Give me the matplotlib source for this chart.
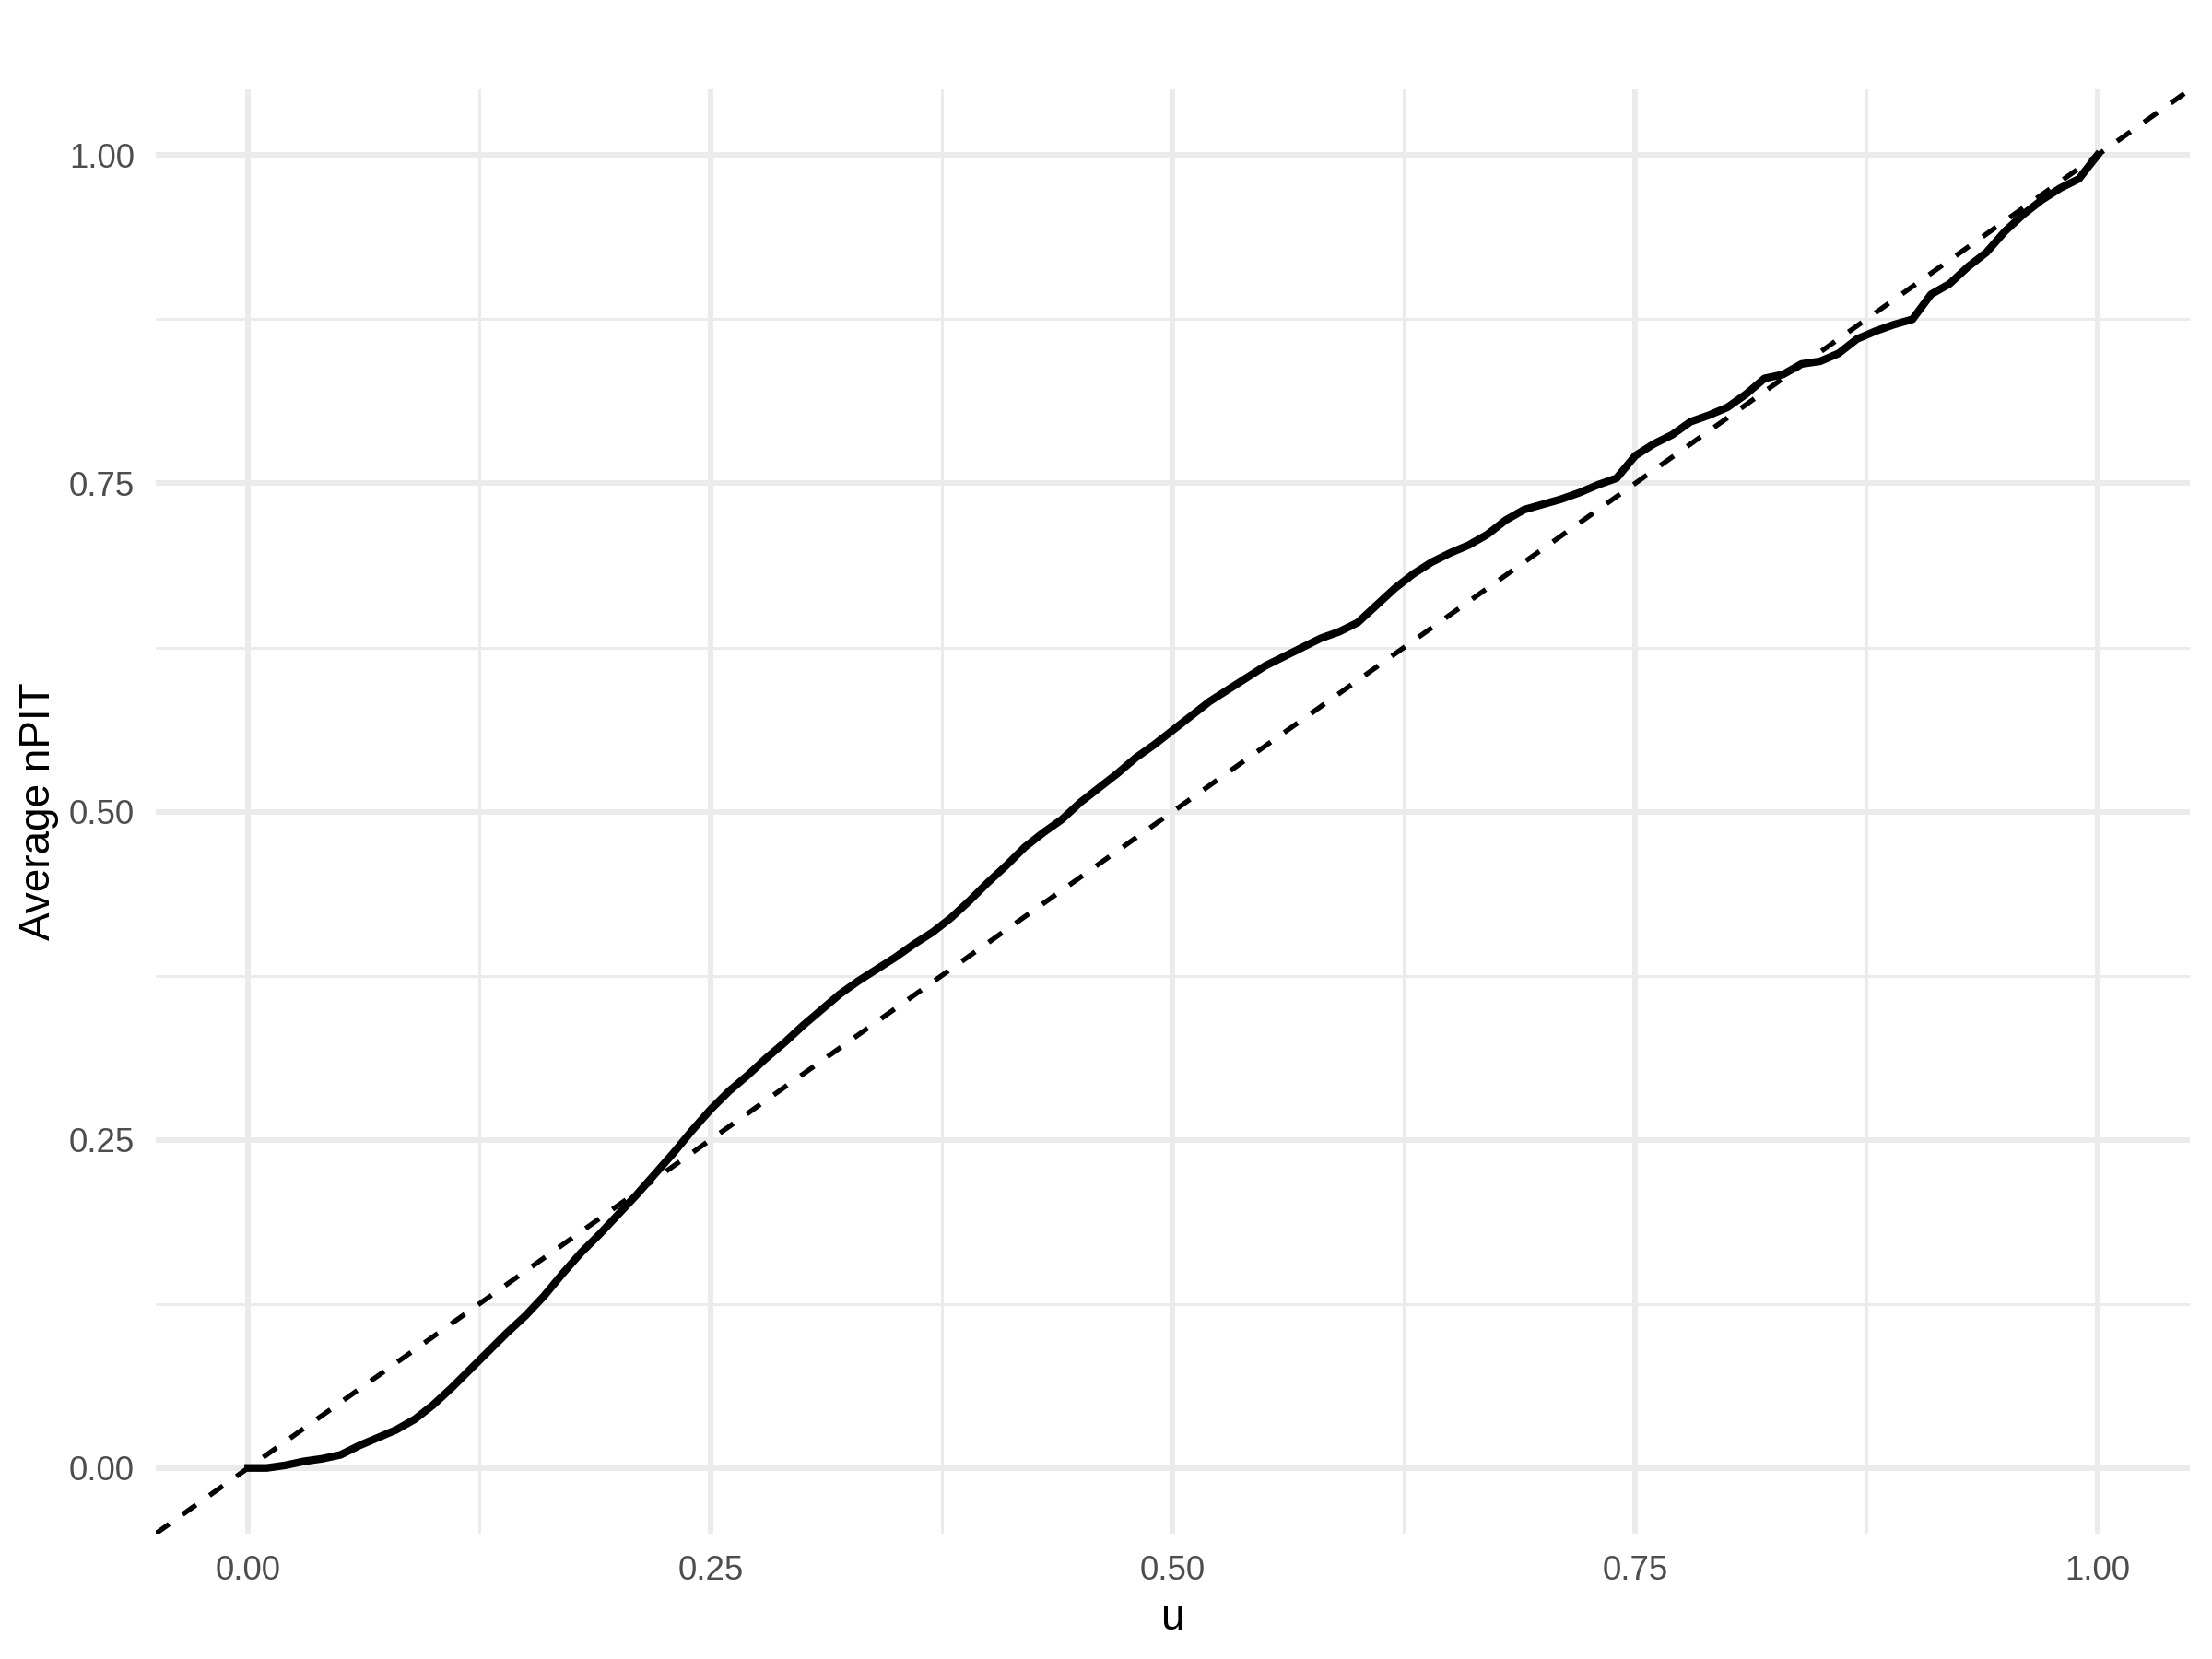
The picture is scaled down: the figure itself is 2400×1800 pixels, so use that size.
import numpy as np
import matplotlib
matplotlib.use("Agg")
import matplotlib.pyplot as plt
from matplotlib.ticker import MultipleLocator

# average nPIT at u = 0.00, 0.01, ..., 1.00
u = np.round(np.arange(0, 101) / 100, 2)
npit = [
    0.000, 0.000, 0.002, 0.005, 0.007, 0.010, 0.017, 0.023, 0.029, 0.037,
    0.048, 0.061, 0.075, 0.089, 0.103, 0.116, 0.131, 0.148, 0.164, 0.178,
    0.193, 0.208, 0.224, 0.240, 0.257, 0.273, 0.287, 0.299, 0.312, 0.324,
    0.337, 0.349, 0.361, 0.371, 0.380, 0.389, 0.399, 0.408, 0.419, 0.432,
    0.446, 0.459, 0.473, 0.484, 0.494, 0.507, 0.518, 0.529, 0.541, 0.551,
    0.562, 0.573, 0.584, 0.593, 0.602, 0.611, 0.618, 0.625, 0.632, 0.637,
    0.644, 0.657, 0.670, 0.681, 0.690, 0.697, 0.703, 0.711, 0.722, 0.730,
    0.734, 0.738, 0.743, 0.749, 0.754, 0.771, 0.780, 0.787, 0.797, 0.802,
    0.808, 0.818, 0.830, 0.833, 0.841, 0.843, 0.849, 0.860, 0.866, 0.871,
    0.875, 0.894, 0.902, 0.915, 0.926, 0.942, 0.955, 0.966, 0.975, 0.982,
    1.000,
]

plt.rcParams["font.family"] = ["Liberation Sans", "DejaVu Sans"]

fig = plt.figure(figsize=(8, 6), dpi=300)
ax = fig.add_axes([0.0704, 0.0756, 0.9196, 0.8704])

ax.set_xlim(-0.05, 1.05)
ax.set_ylim(-0.05, 1.05)

# ggplot theme_minimal look
for s in ax.spines.values():
    s.set_visible(False)
ax.xaxis.set_major_locator(MultipleLocator(0.25))
ax.yaxis.set_major_locator(MultipleLocator(0.25))
ax.xaxis.set_minor_locator(MultipleLocator(0.125))
ax.yaxis.set_minor_locator(MultipleLocator(0.125))
ax.grid(True, which="major", color="#EBEBEB", linewidth=1.42)
ax.grid(True, which="minor", color="#EBEBEB", linewidth=0.71)
ax.set_axisbelow(True)
ax.tick_params(which="both", length=0, labelsize=8.8, labelcolor="#4D4D4D", pad=5.5)
ax.set_xticks([0, 0.25, 0.5, 0.75, 1.0])
ax.set_xticklabels(["0.00", "0.25", "0.50", "0.75", "1.00"])
ax.set_yticks([0, 0.25, 0.5, 0.75, 1.0])
ax.set_yticklabels(["0.00", "0.25", "0.50", "0.75", "1.00"])

ax.plot(u, npit, color="black", linewidth=2.0, solid_joinstyle="round", zorder=3)
ax.axline((0, 0), slope=1, color="black", linewidth=1.3,
          linestyle=(0, (3.3, 3.3)), zorder=4)

ax.set_xlabel("u", fontsize=11, labelpad=3)
ax.set_ylabel("Average nPIT", fontsize=11, labelpad=2.5)

fig.savefig("out.png", dpi=300, facecolor="white")
